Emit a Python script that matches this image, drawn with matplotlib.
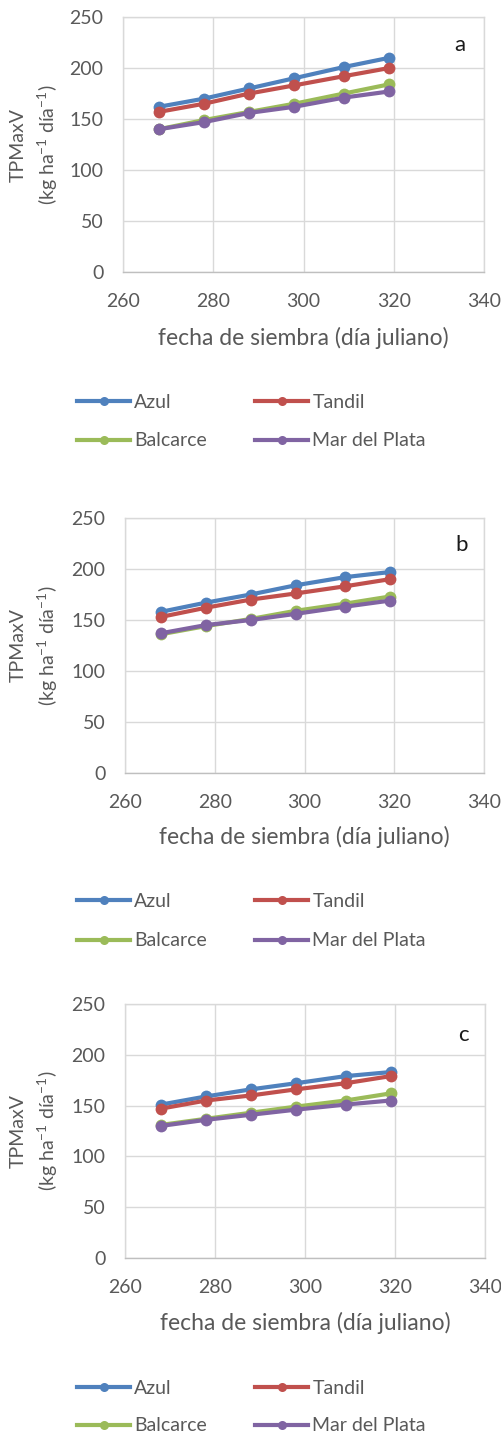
import matplotlib
matplotlib.use("Agg")
import matplotlib.pyplot as plt
from matplotlib.lines import Line2D

# ---------------- data ----------------
fecha = [268, 278, 288, 298, 309, 319]
series_names = ["Azul", "Tandil", "Balcarce", "Mar del Plata"]
colors = ["#4F81BD", "#C0504D", "#9BBB59", "#8064A2"]

a_azul = [162, 170, 180, 190, 201, 210]
a_tandil = [157, 165, 175, 183, 192, 200]
a_balcarce = [140, 149, 157, 165, 175, 184]
a_mdp = [140, 147, 156, 162, 171, 177]

b_azul = [158, 167, 175, 184, 192, 197]
b_tandil = [153, 162, 170, 176, 183, 190]
b_balcarce = [136, 144, 151, 159, 166, 173]
b_mdp = [137, 145, 150, 156, 163, 169]

c_azul = [151, 159, 166, 172, 179, 183]
c_tandil = [147, 155, 160, 166, 172, 179]
c_balcarce = [131, 137, 143, 149, 155, 162]
c_mdp = [130, 136, 141, 146, 151, 155]

panel_letters = ["a", "b", "c"]
xticks = [260, 280, 300, 320, 340]
yticks = [0, 50, 100, 150, 200, 250]
xlabel = "fecha de siembra (día juliano)"
ylabel1 = "TPMaxV"
ylabel2 = r"(kg ha$^{-1}$ día$^{-1}$)"

panels = [
    [a_azul, a_tandil, a_balcarce, a_mdp],
    [b_azul, b_tandil, b_balcarce, b_mdp],
    [c_azul, c_tandil, c_balcarce, c_mdp],
]

# ---------------- layout (pixels) ----------------
W, H = 501, 1439
FONT = "Lato"
plt.rcParams["font.family"] = [FONT, "DejaVu Sans"]
plt.rcParams["mathtext.fontset"] = "custom"
plt.rcParams["mathtext.rm"] = FONT
plt.rcParams["mathtext.it"] = FONT
plt.rcParams["mathtext.bf"] = FONT
TXT = "#595959"
GRID = "#D9D9D9"
FS = 14

# (left, right, top, bottom) of plot areas
boxes = [(123, 484, 17, 272), (125, 484, 518, 773), (125, 485, 1004, 1258)]
xlabel_y = [338, 837, 1323]
legend_rows = [(401, 442), (900, 942), (1387, 1427)]
letter_pos = [(460, 45), (462, 545), (463, 1035)]

fig = plt.figure(figsize=(W / 100, H / 100), dpi=100)

def fx(x):
    return x / W

def fy(y):
    return 1 - y / H

for i, data in enumerate(panels):
    l, r, t, b = boxes[i]
    ax = fig.add_axes([fx(l), fy(b), (r - l) / W, (b - t) / H])
    for vals, name, c in zip(data, series_names, colors):
        ax.plot(fecha, vals, color=c, lw=3.0, marker="o", ms=8.5,
                markeredgewidth=0, label=name, solid_capstyle="round")
    ax.set_xlim(260, 340)
    ax.set_ylim(0, 250)
    ax.set_xticks(xticks)
    ax.set_yticks(yticks)
    ax.grid(True, color=GRID, lw=1.0)
    ax.set_axisbelow(True)
    for s in ax.spines.values():
        s.set_color(GRID)
        s.set_linewidth(1.0)
    ax.spines["bottom"].set_color("#BFBFBF")
    ax.tick_params(length=0, labelsize=FS, labelcolor=TXT)
    ax.tick_params(axis="x", pad=15)
    ax.tick_params(axis="y", pad=14)

    cy = (t + b) / 2
    fig.text(fx(18), fy(cy), ylabel1, rotation=90, ha="center", va="center",
             fontsize=FS, color=TXT)
    fig.text(fx(48), fy(cy), ylabel2, rotation=90, ha="center", va="center",
             fontsize=FS, color=TXT)
    fig.text(fx((l + r) / 2), fy(xlabel_y[i]), xlabel, ha="center",
             va="center", fontsize=16.5, color=TXT)
    lx, ly = letter_pos[i]
    fig.text(fx(lx), fy(ly), panel_letters[i], ha="center", va="center",
             fontsize=16, color="#1a1a1a")

    handles = [Line2D([0], [0], color=c, lw=3.0, marker="o", ms=6.5,
                      markeredgewidth=0) for c in colors]
    r1, r2 = legend_rows[i]
    for col, (idxs, x0) in enumerate([((0, 2), 77), ((1, 3), 255)]):
        hs = [handles[k] for k in idxs]
        ls = [series_names[k] for k in idxs]
        fig.legend(hs, ls, loc="center left",
                   bbox_to_anchor=(fx(x0), fy((r1 + r2) / 2)),
                   frameon=False, fontsize=FS, handlelength=2.75,
                   handletextpad=0.2, labelspacing=(r2 - r1) / 19.4 - 1.0,
                   borderpad=0, borderaxespad=0, labelcolor=TXT)

fig.savefig("out.png", dpi=100)
